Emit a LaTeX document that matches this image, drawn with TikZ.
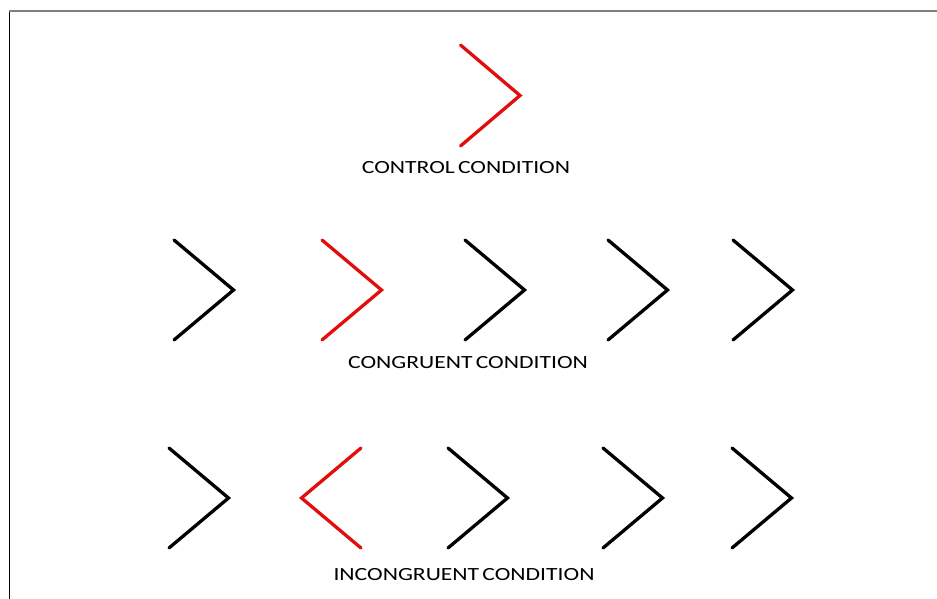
\documentclass[tikz,border=0pt]{standalone}
\usepackage{fontspec}
\setmainfont{Carlito}[WordSpace=0.6]
\usetikzlibrary{positioning}

\definecolor{flankred}{RGB}{226,14,14}
\definecolor{framegray}{RGB}{128,128,128}

\begin{document}
\begin{tikzpicture}[x=1pt,y=-1pt,
    chev/.style={line width=3.3pt,line cap=round,line join=miter},
    cond/.style={font=\fontsize{18.6}{20}\selectfont,inner sep=0pt,xscale=1.27}]
  \useasboundingbox (0,0) rectangle (937,599);

  % frame: left edge black, top edge grey
  \draw[line width=1.4pt] (9.5,10) -- (9.5,599);
  \draw[framegray,line width=2pt] (9,11) -- (937,11);

  % ---- control: the red target alone ----
  \draw[chev,flankred] (460.5,45) -- ++(59.5,50.5) -- ++(-59.5,50.5);
  \node[cond] (control) at (466,168) {CONTROL CONDITION};

  % ---- congruent: target points the same way as the flankers ----
  \foreach \x in {174,465,608,733} {
    \draw[chev] (\x,240) -- ++(59.5,50) -- ++(-59.5,50);
  }
  \draw[chev,flankred] (322,240) -- ++(59.5,50) -- ++(-59.5,50);
  \node[cond] (congruent) at (468,362.5) {CONGRUENT CONDITION};

  % ---- incongruent: target reversed ----
  \foreach \x in {169,448,603,732} {
    \draw[chev] (\x,448) -- ++(59.5,50) -- ++(-59.5,50);
  }
  \draw[chev,flankred] (361,448) -- ++(-59.5,50) -- ++(59.5,50);
  \node[cond] (incongruent) at (464,574.5) {INCONGRUENT CONDITION};
\end{tikzpicture}
\end{document}
